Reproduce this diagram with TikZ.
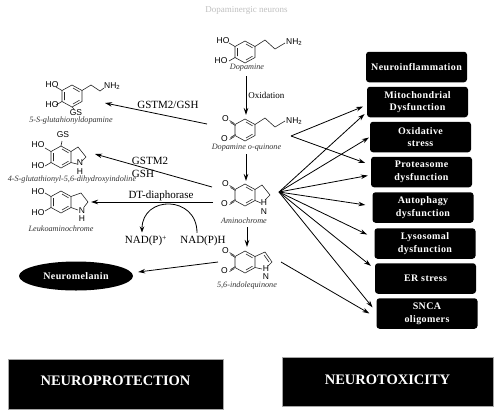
\documentclass[tikz,border=0pt]{standalone}
\usepackage{fontspec}
\setmainfont{Liberation Serif}
\newfontfamily\atomfont{Liberation Sans}
\newfontfamily\boxfont[LetterSpace=4]{Liberation Serif}
\usetikzlibrary{shapes.geometric, arrows.meta, positioning}
\tikzstyle{outcome} = [rectangle, rounded corners=3pt, minimum width=101pt, minimum height=30.5pt, inner sep=0pt, align=center, fill=black, text=white, font=\boxfont\fontsize{10}{12.7}\selectfont\bfseries]
\tikzstyle{banner} = [rectangle, inner sep=0pt, fill=black, draw=gray!70, line width=0.3pt, text=white, font=\fontsize{14.5}{16}\selectfont\bfseries]
\tikzstyle{arrow} = [line width=0.8pt, -{Stealth[length=7pt,width=4.5pt]}]
\tikzstyle{bond} = [line width=0.6pt, black!85]
\tikzstyle{atom} = [inner sep=0pt, font=\atomfont\fontsize{8.5}{9}\selectfont]
\tikzstyle{caption} = [inner sep=0pt, text=black!80, font=\fontsize{8.2}{9}\selectfont\itshape]
\tikzstyle{enzyme} = [inner sep=0pt, font=\fontsize{11}{13}\selectfont]
\tikzset{
    benzring/.pic={
        \draw[bond] (0,-11) -- (10,-5.5) -- (10,5.5) -- (0,11) -- (-10,5.5) -- (-10,-5.5) -- cycle;
        \draw[bond] (1,-8) -- (7.5,-4.2) (7.5,4.2) -- (1,8) (-7.5,4) -- (-7.5,-4);
    },
    diolring/.pic={
        \pic {benzring};
        \draw[bond] (-10,-5.5) -- (-16,-9) (-10,5.5) -- (-16,9);
    },
    quinring/.pic={
        \draw[bond] (0,-11) -- (10,-5.5) -- (10,5.5) -- (0,11) -- (-10,5.5) -- (-10,-5.5) -- cycle;
        \draw[bond] (1,-8) -- (7.5,-4.2) (7.5,4.2) -- (1,8);
        \draw[bond] (-10.5,-6.5) -- (-15.5,-9.5) (-9.5,-4.5) -- (-14.5,-7.5);
        \draw[bond] (-10.5,6.5) -- (-15.5,9.5) (-9.5,4.5) -- (-14.5,7.5);
        \node[atom] (oa) at (-19.5,-11.5) {O};
        \node[atom] (ob) at (-20.5,8.5) {O};
    }
}

\begin{document}
\begin{tikzpicture}[x=1pt, y=-1pt]

    \useasboundingbox (0,0) rectangle (500,416);
    \node (title) [inner sep=0pt, text=gray!50, font=\fontsize{9}{11}\selectfont] at (246.5,10) {Dopaminergic neurons};

    % Molecules
    \pic (dopa) at (245,52) {diolring};
    \draw[bond] (255,46.5) -- (265,40) -- (275,49) -- (285,43);
    \node (dopaho) [atom] at (223,41) {HO};
    \node (dopahob) [atom] at (221,61) {HO};
    \node (dopanh) [atom, anchor=west] at (286,42) {NH\textsubscript{2}};
    \node (dopacap) [caption] at (247,68) {Dopamine};

    \pic (quin) at (245,130) {quinring};
    \draw[bond] (255,124.5) -- (265,118) -- (275,127) -- (285,121);
    \node (quinnh) [atom, anchor=west] at (286,121) {NH\textsubscript{2}};
    \node (quincap) [caption] at (246.5,147.5) {Dopamine o-quinone};

    \pic (amino) at (245,195) {quinring};
    \draw[bond] (255,189.5) -- (262,185) -- (270,195) -- (265,200) (255,200.5) -- (261,203);
    \node (aminoh) [atom] at (264,203) {H};
    \node (aminon) [atom] at (264,212) {N};
    \node (aminocap) [caption] at (244,221) {Aminochrome};

    \pic (indole) at (245,262) {quinring};
    \draw[bond] (255,256.5) -- (265,252) -- (272,262) -- (268,266) (264,255) -- (269,262) (255,267.5) -- (262,269);
    \node (indoleh) [atom] at (266,269) {H};
    \node (indolen) [atom] at (266,277) {N};
    \node (indolecap) [caption] at (247,286) {5,6-indolequinone};

    \pic (glu) at (72,96) {diolring};
    \draw[bond] (82,90.5) -- (91,85) -- (100,91) -- (104,88) (72,107) -- (74,109);
    \node (gluho) [atom] at (52,85) {HO};
    \node (gluhob) [atom] at (52,105) {HO};
    \node (glugs) [atom] at (76,113) {GS};
    \node (glunh) [atom, anchor=west] at (104,86) {NH\textsubscript{2}};
    \node (glucap) [caption] at (71,121) {5-S-glutahionyldopamine};

    \pic (dihy) at (61,157) {diolring};
    \draw[bond] (71,151.5) -- (78,147) -- (86,157) -- (82,161) (71,162.5) -- (77,164) (61,146) -- (62,141);
    \node (dihyho) [atom] at (38,145) {HO};
    \node (dihyhob) [atom] at (38,166) {HO};
    \node (dihygs) [atom] at (63,135) {GS};
    \node (dihyn) [atom] at (80,163) {N};
    \node (dihyh) [atom] at (80,172) {H};
    \node (dihycap) [caption] at (72,180) {4-S-glutathionyl-5,6-dihydroxyindoline};

    \pic (leuko) at (61,202) {diolring};
    \draw[bond] (71,196.5) -- (81,193) -- (88,202) -- (84,207) (71,207.5) -- (78,210);
    \node (leukoho) [atom] at (38,192) {HO};
    \node (leukohob) [atom] at (38,213) {HO};
    \node (leukon) [atom] at (82,211) {N};
    \node (leukoh) [atom] at (82,219) {H};
    \node (leukocap) [caption] at (61,229) {Leukoaminochrome};

    % Outcome boxes
    \node (inflam) [outcome] at (416.5,67) {Neuroinflammation};
    \node (mito) [outcome] at (417.5,102) {Mitochondrial\\Dysfunction};
    \node (oxid) [outcome] at (420.5,137) {Oxidative\\stress};
    \node (prot) [outcome] at (421.5,172) {Proteasome\\dysfunction};
    \node (auto) [outcome] at (423,207.5) {Autophagy\\dysfunction};
    \node (lyso) [outcome] at (425,243.5) {Lysosomal\\dysfunction};
    \node (er) [outcome] at (425.5,278.5) {ER stress};
    \node (snca) [outcome] at (427,313.5) {SNCA\\oligomers};

    \node (melanin) [ellipse, inner sep=0pt, minimum width=114pt, minimum height=29pt, fill=black, text=white, font=\boxfont\fontsize{10}{11}\selectfont\bfseries] at (76,276) {Neuromelanin};
    \node (protect) [banner, minimum width=215pt, minimum height=50pt, text depth=6pt] at (115.5,384) {NEUROPROTECTION};
    \node (toxic) [banner, minimum width=211pt, minimum height=49pt, text depth=4pt] at (387.5,381.5) {NEUROTOXICITY};

    \node (nadp) [enzyme] at (146,241) {NAD(P)\textsuperscript{+}};
    \node (nadh) [enzyme] at (203,241) {NAD(P)H};

    % Free ends next to the molecules
    \coordinate (fanq) at (291,136);
    \coordinate (fana) at (279,192);
    \coordinate (fani) at (281,262);
    \coordinate (dopaout) at (246,76);
    \coordinate (quinin) at (246,115);
    \coordinate (quinout) at (246,154);
    \coordinate (aminoin) at (246,181);
    \coordinate (aminoout) at (247,227);
    \coordinate (indolein) at (247,247);
    \coordinate (quinleft) at (207,124);
    \coordinate (gluin) at (105,103);
    \coordinate (aminoup) at (212,187);
    \coordinate (dihyin) at (95,154);
    \coordinate (aminoleft) at (213,202);
    \coordinate (leukoin) at (91,202);
    \coordinate (indoleleft) at (218,262);

    \draw [arrow] (dopaout) -- node[anchor=west, inner sep=2pt, font=\fontsize{9}{11}\selectfont] {Oxidation} (quinin);
    \draw [arrow] (quinout) -- (aminoin);
    \draw [arrow] (aminoout) -- (indolein);
    \draw [arrow] (quinleft) -- (gluin);
    \draw [arrow] (aminoup) -- (dihyin);
    \draw [arrow] (aminoleft) -- (leukoin);
    \draw [arrow] (indoleleft) -- ([xshift=5pt,yshift=4pt]melanin.east);

    \node (gstmglu) [enzyme] at (168,105) {GSTM2/GSH};
    \node (gstmdihy) [enzyme] at (150,161) {GSTM2};
    \node (gsh) [enzyme] at (143,173.5) {GSH};
    \node (diaphor) [enzyme] at (161,196) {DT-diaphorase};

    % NAD cycle
    \draw [line width=0.8pt, -{Stealth[length=6pt,width=4.5pt]}] ([xshift=-6pt,yshift=3pt]nadh.north) .. controls (197,195) and (142,195) .. ([xshift=-4pt,yshift=3pt]nadp.north);

    % Arrows to the boxes
    \draw [arrow, shorten >=4pt] (fanq) -- ([yshift=-3pt]mito.west);
    \draw [arrow, shorten >=6pt] (fanq) -- ([yshift=7pt]prot.west);
    \draw [arrow, shorten >=3pt] (fana) -- ([yshift=-10pt]mito.west);
    \draw [arrow, shorten >=1pt] (fana) -- (oxid.west);
    \draw [arrow, shorten >=3pt] (fana) -- ([yshift=-3pt]prot.west);
    \draw [arrow, shorten >=7pt] (fana) -- ([yshift=1.5pt]auto.west);
    \draw [arrow, shorten >=8pt] (fana) -- ([yshift=5.5pt]lyso.west);
    \draw [arrow, shorten >=5pt] (fana) -- ([yshift=9.5pt]er.west);
    \draw [arrow, shorten >=6pt] (fana) -- ([yshift=1.5pt]snca.west);
    \draw [arrow, shorten >=8pt] (fani) -- ([yshift=-4pt]snca.west);

\end{tikzpicture}
\end{document}
